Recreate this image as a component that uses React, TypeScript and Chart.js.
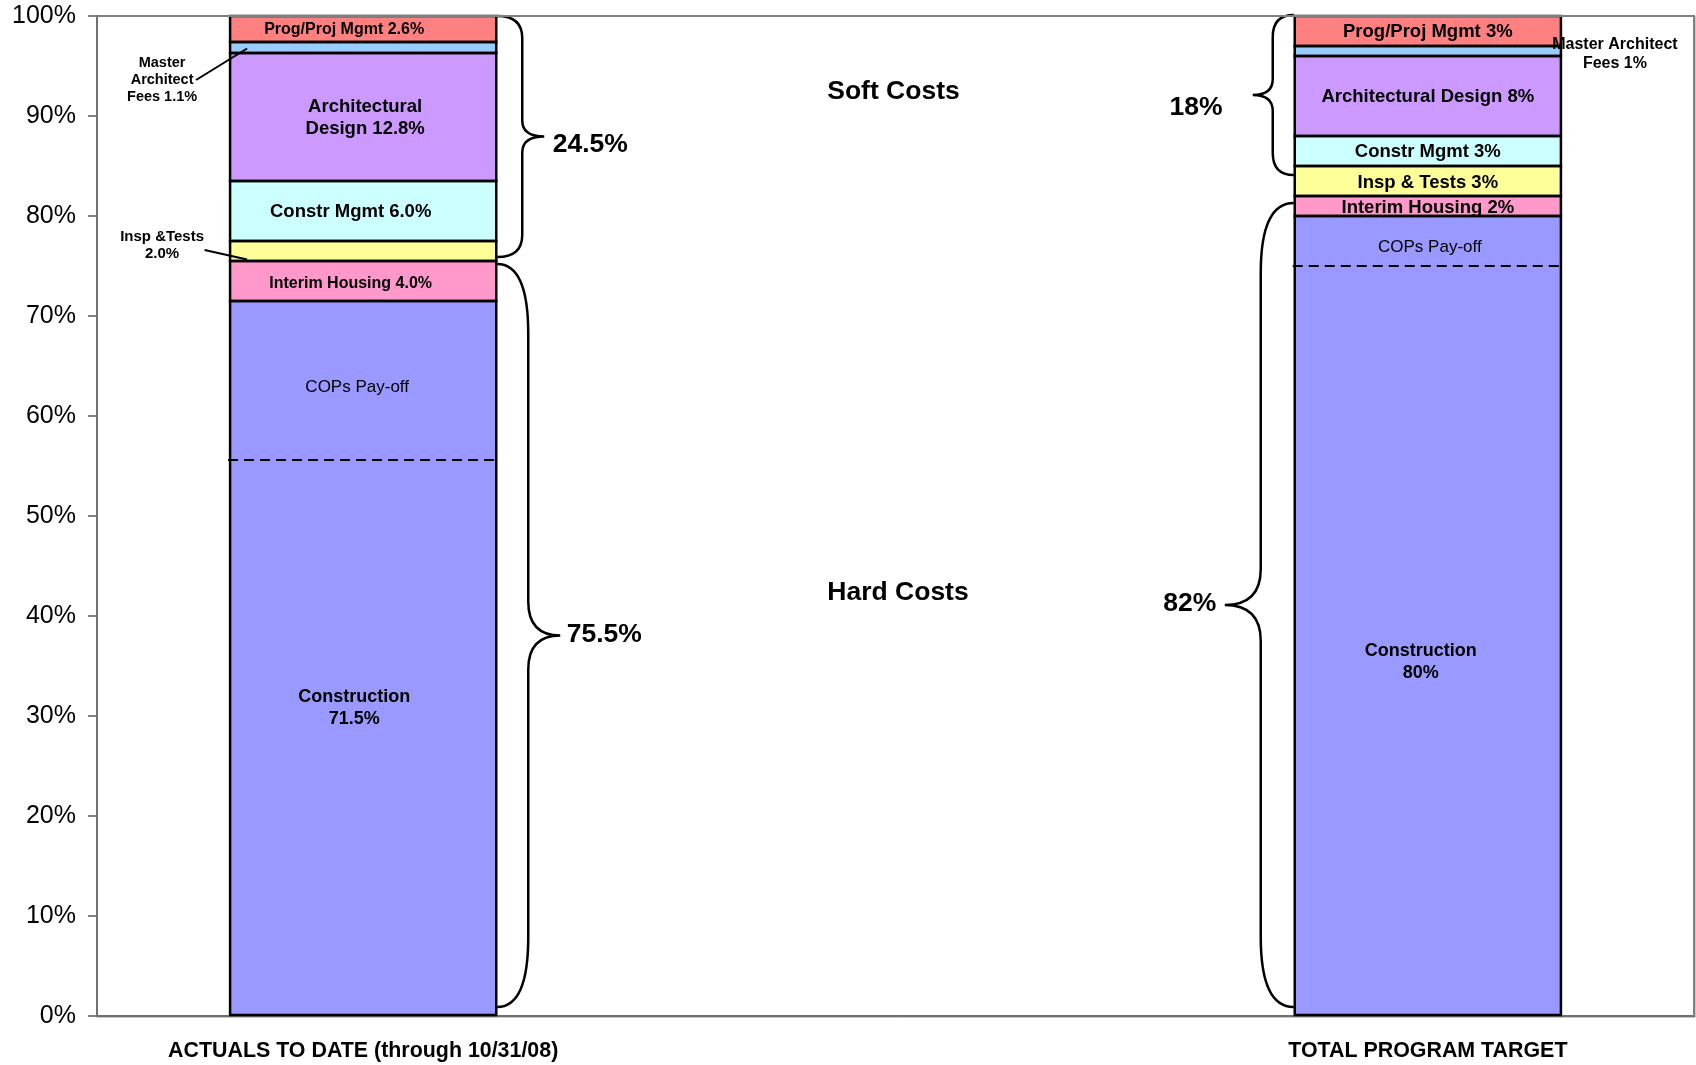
import React, { useEffect, useRef } from "react";
import { Chart, registerables } from "chart.js";

Chart.register(...registerables);

// ---------------- data ----------------
const categories = ["ACTUALS TO DATE (through 10/31/08)", "", "TOTAL PROGRAM TARGET"];
const construction = [71.5, null, 80];
const interimHousing = [4.0, null, 2];
const inspTests = [2.0, null, 3];
const constrMgmt = [6.0, null, 3];
const archDesign = [12.8, null, 8];
const masterArchitect = [1.1, null, 1];
const progProjMgmt = [2.6, null, 3];
const copsPayoffLevel = [55.6, null, 75];
const softCostTotals = ["24.5%", "", "18%"];
const hardCostTotals = ["75.5%", "", "82%"];
const softBraceRange = [[75.9, 100], null, [84.1, 100.1]];
const hardBraceRange = [[0.9, 75.2], null, [0.9, 81.3]];

const FONT = '"Liberation Sans", Arial, Helvetica, sans-serif';

// Text annotations: cat = category index, v = value on y axis, dx = px offset from anchor
type Ann = {
  text: string;
  cat: number;
  v: number;
  dx: number;
  size: number;
  bold: boolean;
  lh?: number;
  anchor?: "center" | "left" | "right";
};

const annotations: Ann[] = [
  // actuals bar
  { text: "Prog/Proj Mgmt 2.6%", cat: 0, v: 98.6, dx: -19, size: 16, bold: true },
  { text: "Architectural\nDesign 12.8%", cat: 0, v: 89.8, dx: 2, size: 18.5, bold: true, lh: 21.6 },
  { text: "Constr Mgmt 6.0%", cat: 0, v: 80.4, dx: -12.5, size: 18.5, bold: true },
  { text: "Interim Housing 4.0%", cat: 0, v: 73.2, dx: -12.5, size: 16, bold: true },
  { text: "COPs Pay-off", cat: 0, v: 62.9, dx: -6, size: 17, bold: false },
  { text: "Construction\n71.5%", cat: 0, v: 30.8, dx: -9, size: 18, bold: true, lh: 21.6 },
  { text: "Master\nArchitect\nFees 1.1%", cat: 0, v: 93.6, dx: -68, size: 14.5, bold: true, lh: 16.8, anchor: "left" },
  { text: "Insp &Tests\n2.0%", cat: 0, v: 77.05, dx: -68, size: 15, bold: true, lh: 17.3, anchor: "left" },
  { text: softCostTotals[0], cat: 0, v: 87.1, dx: 94, size: 26.5, bold: true, anchor: "right" },
  { text: hardCostTotals[0], cat: 0, v: 38.1, dx: 108, size: 26.5, bold: true, anchor: "right" },
  // middle
  { text: "Soft Costs", cat: 1, v: 92.45, dx: -2, size: 26.5, bold: true },
  { text: "Hard Costs", cat: 1, v: 42.3, dx: 2.5, size: 26.5, bold: true },
  // target bar
  { text: "Prog/Proj Mgmt 3%", cat: 2, v: 98.4, dx: 0, size: 18.5, bold: true },
  { text: "Architectural Design 8%", cat: 2, v: 91.9, dx: 0, size: 18.5, bold: true },
  { text: "Constr Mgmt 3%", cat: 2, v: 86.4, dx: 0, size: 18.5, bold: true },
  { text: "Insp & Tests 3%", cat: 2, v: 83.35, dx: 0, size: 18.5, bold: true },
  { text: "Interim Housing 2%", cat: 2, v: 80.85, dx: 0, size: 18.5, bold: true },
  { text: "COPs Pay-off", cat: 2, v: 76.9, dx: 2, size: 17, bold: false },
  { text: "Construction\n80%", cat: 2, v: 35.4, dx: -7, size: 18, bold: true, lh: 22.7 },
  { text: "Master Architect\nFees 1%", cat: 2, v: 96.2, dx: 54, size: 16, bold: true, lh: 18.4, anchor: "right" },
  { text: softCostTotals[2], cat: 2, v: 90.8, dx: -98.7, size: 26.5, bold: true, anchor: "left" },
  { text: hardCostTotals[2], cat: 2, v: 41.2, dx: -105, size: 26.5, bold: true, anchor: "left" },
];

// leader lines, x offsets relative to bar left edge
const leaders = [
  { cat: 0, x1: -34, v1: 93.6, x2: 17, v2: 96.75 },
  { cat: 0, x1: -25.5, v1: 76.6, x2: 17, v2: 75.65 },
];

const annotPlugin = {
  id: "annot",
  afterDatasetsDraw(chart: any) {
    const ctx: CanvasRenderingContext2D = chart.ctx;
    const ys = chart.scales.y;
    const xs = chart.scales.x;
    const meta = chart.getDatasetMeta(0);
    const barGeom = (i: number) => {
      const el: any = meta.data[i];
      const cx = xs.getPixelForValue(i);
      const w = el && el.width ? el.width : 266;
      return { cx, left: cx - w / 2, right: cx + w / 2 };
    };

    ctx.save();
    // segment outlines (centered strokes, uniform width)
    ctx.strokeStyle = "#000";
    ctx.lineWidth = 2.5;
    chart.data.datasets.forEach((ds: any, di: number) => {
      const m = chart.getDatasetMeta(di);
      m.data.forEach((el: any, i: number) => {
        if (ds.data[i] == null) return;
        const top = Math.min(el.y, el.base);
        const h = Math.abs(el.base - el.y);
        ctx.strokeRect(el.x - el.width / 2, top, el.width, h);
      });
    });

    // dashed COPs pay-off lines
    ctx.lineWidth = 2;
    ctx.setLineDash([10, 6]);
    copsPayoffLevel.forEach((lv, i) => {
      if (lv == null) return;
      const g = barGeom(i);
      const py = ys.getPixelForValue(lv);
      ctx.beginPath();
      ctx.moveTo(g.left - 2, py);
      ctx.lineTo(g.right - 2, py);
      ctx.stroke();
    });
    ctx.setLineDash([]);

    // leader lines
    ctx.lineWidth = 2;
    leaders.forEach((l) => {
      const g = barGeom(l.cat);
      ctx.beginPath();
      ctx.moveTo(g.left + l.x1, ys.getPixelForValue(l.v1));
      ctx.lineTo(g.left + l.x2, ys.getPixelForValue(l.v2));
      ctx.stroke();
    });

    // braces
    const drawBrace = (xEdge: number, xVert: number, xTip: number, yTop: number, yBot: number, rEnd: number, rTip: number) => {
      const yTip = (yTop + yBot) / 2;
      ctx.beginPath();
      ctx.moveTo(xEdge, yTop);
      ctx.quadraticCurveTo(xVert, yTop, xVert, yTop + rEnd);
      ctx.lineTo(xVert, yTip - rTip);
      ctx.quadraticCurveTo(xVert, yTip, xTip, yTip);
      ctx.quadraticCurveTo(xVert, yTip, xVert, yTip + rTip);
      ctx.lineTo(xVert, yBot - rEnd);
      ctx.quadraticCurveTo(xVert, yBot, xEdge, yBot);
      ctx.stroke();
    };
    ctx.lineWidth = 2.5;
    {
      const g = barGeom(0);
      const s = softBraceRange[0] as number[];
      const h = hardBraceRange[0] as number[];
      drawBrace(g.right + 1, g.right + 26, g.right + 48, ys.getPixelForValue(s[1]), ys.getPixelForValue(s[0]), 22, 16);
      drawBrace(g.right + 1, g.right + 32, g.right + 64, ys.getPixelForValue(h[1]), ys.getPixelForValue(h[0]), 70, 34);
    }
    {
      const g = barGeom(2);
      const s = softBraceRange[2] as number[];
      const h = hardBraceRange[2] as number[];
      drawBrace(g.left - 1, g.left - 22, g.left - 42, ys.getPixelForValue(s[1]), ys.getPixelForValue(s[0]), 22, 16);
      drawBrace(g.left - 1, g.left - 34, g.left - 70, ys.getPixelForValue(h[1]), ys.getPixelForValue(h[0]), 70, 36);
    }

    // text
    ctx.fillStyle = "#000";
    ctx.textBaseline = "middle";
    annotations.forEach((a) => {
      const g = barGeom(a.cat);
      let ax = g.cx;
      if (a.anchor === "left") ax = g.left;
      if (a.anchor === "right") ax = g.right;
      const px = ax + a.dx;
      const py = ys.getPixelForValue(a.v);
      ctx.font = `${a.bold ? "bold " : ""}${a.size}px ${FONT}`;
      ctx.textAlign = "center";
      const lines = a.text.split("\n");
      const lh = a.lh || a.size * 1.2;
      const start = py - ((lines.length - 1) * lh) / 2;
      lines.forEach((ln, k) => ctx.fillText(ln, px, start + k * lh));
    });
    ctx.restore();
  },
  afterDraw(chart: any) {
    const ctx: CanvasRenderingContext2D = chart.ctx;
    const a = chart.chartArea;
    ctx.save();
    ctx.strokeStyle = "#808080";
    ctx.lineWidth = 2;
    ctx.beginPath();
    ctx.moveTo(a.left, a.top);
    ctx.lineTo(a.right, a.top);
    ctx.lineTo(a.right, a.bottom);
    ctx.stroke();
    ctx.strokeStyle = "#c8c8c8";
    ctx.lineWidth = 1;
    ctx.beginPath();
    ctx.moveTo(a.left, a.bottom + 1.5);
    ctx.lineTo(a.right + 1.5, a.bottom + 1.5);
    ctx.lineTo(a.right + 1.5, a.top);
    ctx.stroke();
    ctx.restore();
  },
};

export default function App() {
  const ref = useRef<HTMLCanvasElement | null>(null);
  useEffect(() => {
    document.body.style.margin = "0";
    const canvas = ref.current;
    if (!canvas) return;
    const mk = (label: string, data: (number | null)[], color: string) => ({
      label,
      data,
      backgroundColor: color,
      borderColor: "#000",
      borderWidth: 0,
      borderSkipped: false,
      barPercentage: 1,
      categoryPercentage: 0.5,
      stack: "s",
    });
    const chart = new Chart(canvas, {
      type: "bar",
      data: {
        labels: categories,
        datasets: [
          mk("Construction", construction, "#9999FF"),
          mk("Interim Housing", interimHousing, "#FF99CC"),
          mk("Insp & Tests", inspTests, "#FFFF99"),
          mk("Constr Mgmt", constrMgmt, "#CCFFFF"),
          mk("Architectural Design", archDesign, "#CC99FF"),
          mk("Master Architect Fees", masterArchitect, "#99CCFF"),
          mk("Prog/Proj Mgmt", progProjMgmt, "#FF8080"),
        ] as any,
      },
      options: {
        responsive: false,
        animation: false,
        devicePixelRatio: 1,
        layout: { padding: { top: 16, right: 2, left: 0, bottom: 0 } },
        plugins: { legend: { display: false }, tooltip: { enabled: false } },
        scales: {
          x: {
            stacked: true,
            grid: { display: false, drawTicks: false, tickLength: 0 },
            border: { display: true, color: "#707070", width: 2 },
            ticks: {
              color: "#000",
              font: { family: FONT, size: 21.4, weight: "bold" },
              padding: 22,
              maxRotation: 0,
              autoSkip: false,
            },
            afterFit: (s: any) => {
              s.height = 49;
              s.paddingLeft = 0;
              s.paddingRight = 0;
            },
          },
          y: {
            stacked: true,
            min: 0,
            max: 100,
            grid: { display: true, drawOnChartArea: false, drawTicks: true, tickLength: 9, color: "#808080", lineWidth: 2 },
            border: { display: true, color: "#707070", width: 2 },
            ticks: {
              stepSize: 10,
              color: "#000",
              font: { family: FONT, size: 25 },
              padding: 12,
              callback: (v: any) => `${v}%`,
            },
            afterFit: (s: any) => {
              s.width = 97;
              s.paddingTop = 0;
              s.paddingBottom = 0;
            },
          },
        },
      },
      plugins: [annotPlugin],
    } as any);
    return () => chart.destroy();
  }, []);
  return <canvas ref={ref} width={1696} height={1065} style={{ display: "block" }} />;
}
